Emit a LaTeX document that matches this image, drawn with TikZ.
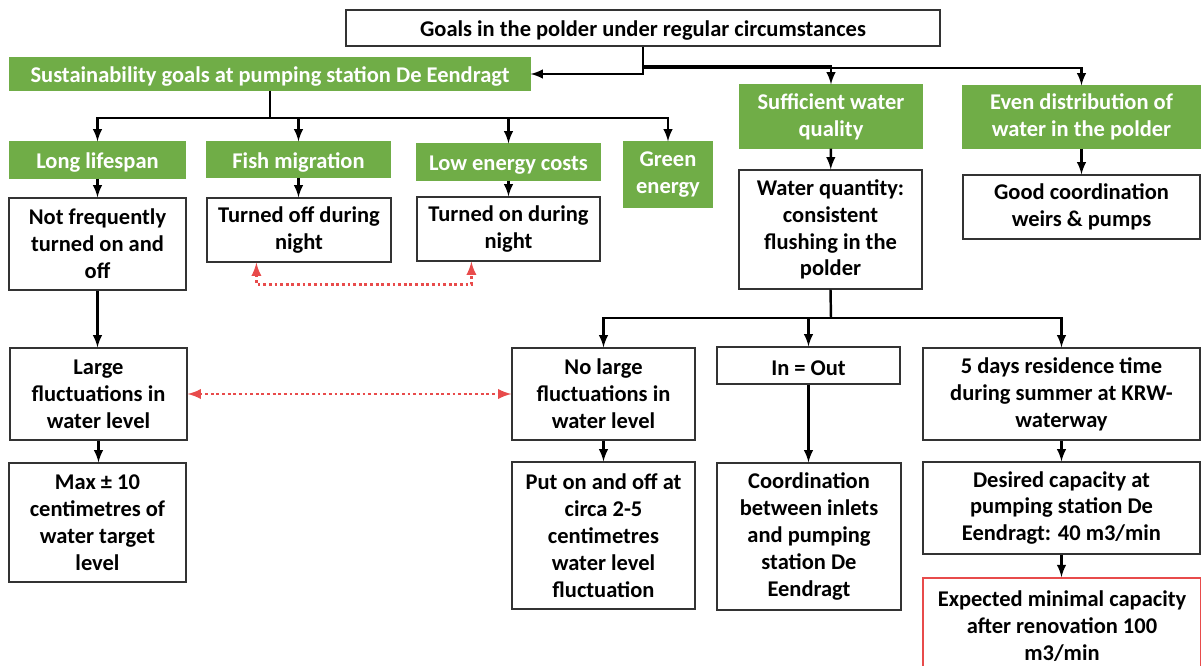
\documentclass[tikz,border=0pt]{standalone}
\usepackage{fontspec}
\setmainfont{Carlito}
\definecolor{goalgreen}{HTML}{70AD47}
\definecolor{linkred}{HTML}{E84B4B}
\newcommand{\boxfont}{\fontsize{12.8pt}{15.3pt}\selectfont\bfseries}
\tikzset{
  box/.style={draw=black!80, line width=0.7pt, fill=white, align=center, font=\boxfont, inner sep=0pt,
    execute at begin node={\rule{0pt}{12pt}}},
  goal/.style={box, draw=goalgreen, fill=goalgreen, text=white},
  dims/.style 2 args={minimum width=#1cm, minimum height=#2cm},
  conn/.style={line width=1.4pt},
  dotlink/.style={<->, draw=linkred, line width=1.6pt, dash pattern=on 1.6pt off 1.6pt}
}
\begin{document}
\begin{tikzpicture}[>=latex, x=0.02cm, y=-0.02cm]
\clip (0,0) rectangle (1201,666);
% top level
\node[box, dims={11.88}{0.72}] (top) at (643,28) {Goals in the polder under regular circumstances};
\node[goal, dims={10.4}{0.64}] (sg) at (270,74) {Sustainability goals at pumping station De Eendragt};
\node[goal, dims={3.64}{1.26}] (qual) at (831,116.5) {Sufficient water\\quality};
\node[goal, dims={4.74}{1.24}] (dist) at (1081.5,117) {Even distribution of\\water in the polder};
% sustainability goals
\node[goal, dims={3.5}{0.72}] (life) at (97.5,160) {Long lifespan};
\node[goal, dims={3.66}{0.7}] (fish) at (298.5,159.5) {Fish migration};
\node[goal, dims={3.66}{0.72}] (cost) at (508.5,162) {Low energy costs};
\node[goal, dims={1.76}{1.3}] (green) at (668,174.5) {Green\\energy};
% measures
\node[box, dims={3.54}{1.84}] (notfreq) at (97.5,244) {Not frequently\\turned on and\\off};
\node[box, dims={3.68}{1.28}] (off) at (299,230) {Turned off during\\night};
\node[box, dims={3.66}{1.28}] (on) at (508.5,229) {Turned on during\\night};
\node[box, dims={3.66}{2.38}] (quant) at (830.5,229.5) {Water quantity:\\consistent\\flushing in the\\polder};
\node[box, dims={4.74}{1.28}] (coord) at (1081.5,207) {Good coordination\\weirs \& pumps};
\node[box, dims={3.54}{1.84}] (large) at (98.5,394) {Large\\fluctuations in\\water level};
\node[box, dims={3.54}{2.38}] (max) at (97.5,522.5) {Max ± 10\\centimetres of\\water target\\level};
\node[box, dims={3.66}{1.84}] (nolarge) at (603.5,394) {No large\\fluctuations in\\water level};
\node[box, dims={3.66}{0.74}] (inout) at (808.5,365.5) {In = Out};
\node[box, dims={5.54}{1.84}] (resid) at (1061.5,394) {5 days residence time\\during summer at KRW-\\waterway};
\node[box, dims={3.66}{2.94}] (puton) at (603.5,535.5) {Put on and off at\\circa 2-5\\centimetres\\water level\\fluctuation};
\node[box, dims={3.68}{2.94}] (coordin) at (809,536.5) {Coordination\\between inlets\\and pumping\\station De\\Eendragt};
\node[box, dims={5.54}{1.84}] (desired) at (1061.5,508) {Desired capacity at\\pumping station De\\Eendragt: 40 m3/min};
\node[box, draw=linkred, line width=1pt, dims={5.56}{1.92}] (expected) at (1062,626) {Expected minimal capacity\\after renovation 100\\m3/min};
% junctions
\coordinate (tj) at (643,66);
\coordinate (tk) at (643,68);
\coordinate (sj) at (270,118);
\coordinate (qj) at (831,318);
% connectors
\draw[conn,->] (top.south) |- (sg.east);
\draw[conn,->] (tj) -| (qual.north);
\draw[conn,->] (tk) -| (dist.north);
\draw[conn] (sg.south) -- (sj);
\foreach \n in {life,fish,cost,green}
  \draw[conn,->] (sj) -| (\n.north);
\draw[conn,->] (life) -- (notfreq);
\draw[conn,->] (fish) -- (fish |- off.north);
\draw[conn,->] (cost) -- (cost |- on.north);
\draw[conn,->] (qual) -- (quant);
\draw[conn,->] (dist) -- (coord);
\draw[conn,->] (notfreq) -- (notfreq |- large.north);
\draw[conn,->] (large) -- (large |- max.north);
\draw[conn] (quant.south) -- (qj);
\foreach \n in {nolarge,inout,resid}
  \draw[conn,->] (qj) -| (\n.north);
\draw[conn,->] (nolarge) -- (puton);
\draw[conn,->] (inout) -- (inout |- coordin.north);
\draw[conn,->] (resid) -- (desired);
\draw[conn,->] (desired) -- (desired |- expected.north);
% links
\draw[dotlink] ([xshift=1cm]off.south west) -- ++(0,22) -| ([xshift=1.1cm]on.south west);
\draw[dotlink] (large) -- (nolarge);
\end{tikzpicture}
\end{document}
